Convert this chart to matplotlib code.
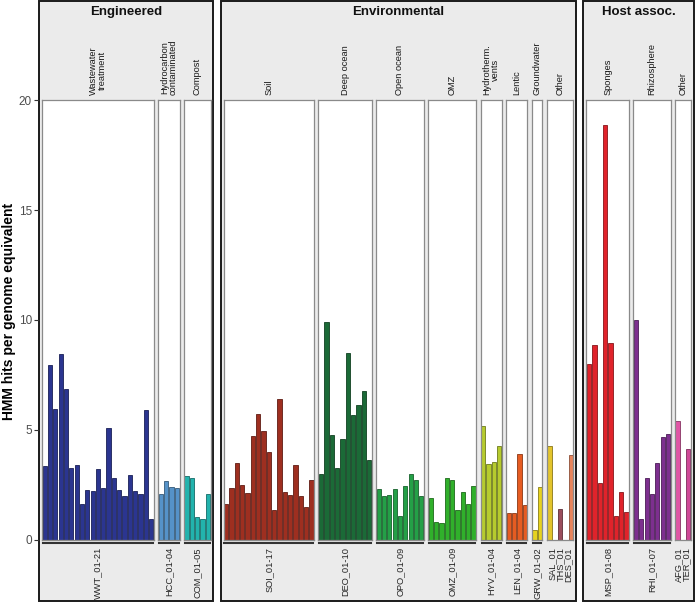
import numpy as np
import matplotlib.pyplot as plt
from matplotlib.colors import to_rgb
from matplotlib.patches import Rectangle
from matplotlib.lines import Line2D

plt.rcParams['font.family'] = ['Liberation Sans', 'DejaVu Sans']

# ---- data ----
group_names = ['Engineered', 'Environmental', 'Host assoc.']
panel_group = [0, 0, 0, 1, 1, 1, 1, 1, 1, 1, 1, 2, 2, 2]
strip_labels = ['Wastewater\ntreatment', 'Hydrocarbon\ncontaminated', 'Compost',
                'Soil', 'Deep ocean', 'Open ocean', 'OMZ', 'Hydrotherm.\nvents',
                'Lentic', 'Groundwater', 'Other',
                'Sponges', 'Rhizosphere', 'Other']
tick_labels = ['WWT_01-21', 'HCC_01-04', 'COM_01-05',
               'SOI_01-17', 'DEO_01-10', 'OPO_01-09', 'OMZ_01-09', 'HYV_01-04',
               'LEN_01-04', 'GRW_01-02', 'SAL_01\nTHS_01\nDES_01',
               'MSP_01-08', 'RHI_01-07', 'AFG_01\nTER_01']

nan = np.nan
wwt = [3.37, 7.97, 5.97, 8.46, 6.86, 3.25, 3.42, 1.64, 2.25, 2.20, 3.22,
       2.37, 5.10, 2.82, 2.25, 1.97, 2.95, 2.23, 2.08, 5.92, 0.96]
hcc = [2.10, 2.65, 2.40, 2.35]
com = [2.90, 2.80, 1.04, 0.92, 2.06]
soi = [1.63, 2.35, 3.47, 2.48, 2.13, 4.73, 5.74, 4.93, 4.00, 1.33, 6.42,
       2.15, 2.04, 3.38, 2.00, 1.50, 2.71]
deo = [2.98, 9.90, 4.76, 3.26, 4.60, 8.49, 5.68, 6.15, 6.79, 3.62]
opo = [2.32, 2.00, 2.03, 2.32, 1.06, 2.43, 2.99, 2.73, 1.98]
omz = [1.88, 0.80, 0.78, 2.79, 2.72, 1.34, 2.19, 1.63, 2.44]
hyv = [5.16, 3.43, 3.52, 4.25]
len_ = [1.21, 1.21, 3.90, 1.57]
grw = [0.46, 2.41]
oth_env = [4.25, nan, 1.42, nan, 3.84]    # SAL, -, THS, -, DES
msp = [8.00, 8.87, 2.56, 18.86, 8.95, 1.09, 2.15, 1.24]
rhi = [9.98, 0.92, 2.80, 2.10, 3.47, 4.69, 4.81]
oth_host = [5.42, nan, 4.11]              # AFG, -, TER

panel_values = [wwt, hcc, com, soi, deo, opo, omz, hyv, len_, grw, oth_env,
                msp, rhi, oth_host]
panel_colors = ['#2b3590', '#5592c8', '#22b3ad', '#9e2f20', '#1b6a37',
                '#24a047', '#30b02b', '#b6cb2e', '#e65c22', '#e6d21e',
                ['#e3c42c', '#e3c42c', '#9b4d5c', '#9b4d5c', '#e8845c'],
                '#e0232b', '#7d2f8f', ['#e055a5', '#e055a5', '#d04898']]

# ---- layout (pixels) ----
W, H = 696, 603
slot, gap, pad, box_gap = 5.33, 4.3, 3.0, 7.0
y_top, y_base = 100.3, 539.7


def fx(x):
    return x / W


def fy(y):
    return 1 - y / H


def darker(c, f=0.6):
    r, g, b = to_rgb(c)
    return (r * f, g * f, b * f)


fig = plt.figure(figsize=(W / 100, H / 100), dpi=100)

x = 39.0
for g, gname in enumerate(group_names):
    box_left = x
    x += pad
    idx = [i for i, pg in enumerate(panel_group) if pg == g]
    for i in idx:
        vals = panel_values[i]
        n = len(vals)
        w = n * slot
        ax = fig.add_axes([fx(x), fy(y_base), w / W, (y_base - y_top) / H])
        cols = panel_colors[i]
        if isinstance(cols, str):
            cols = [cols] * n
        ax.bar(np.arange(n), vals, width=0.8, color=cols,
               edgecolor=[darker(c) for c in cols], linewidth=0.6)
        ax.set_xlim(-0.5, n - 0.5)
        ax.set_ylim(0, 20)
        ax.set_xticks([])
        ax.set_yticks([])
        for sp in ax.spines.values():
            sp.set_color('#8a8a8a')
            sp.set_linewidth(0.9)
        cx = x + w / 2
        fig.text(fx(cx), fy(95), strip_labels[i], rotation=90, ha='center',
                 va='bottom', fontsize=6.7, linespacing=0.9, color='#1a1a1a')
        fig.text(fx(cx), fy(547), tick_labels[i], rotation=90, ha='center',
                 va='top', multialignment='right', fontsize=6.7,
                 linespacing=0.85, color='#262626')
        if '\n' not in tick_labels[i]:
            fig.add_artist(Line2D([fx(x + 1), fx(x + w - 1)],
                                  [fy(542.5), fy(542.5)],
                                  color='#333333', linewidth=1.5))
        x += w + gap
    x -= gap
    x += pad
    box_right = x
    fig.add_artist(Rectangle((fx(box_left), fy(601)), (box_right - box_left) / W,
                             600 / H, transform=fig.transFigure,
                             facecolor='#ebebeb', edgecolor='#1a1a1a',
                             linewidth=1.4, zorder=-1))
    fig.text(fx((box_left + box_right) / 2), fy(12), gname, ha='center',
             va='center', fontsize=9.5, fontweight='bold', color='#111111')
    if g == 0:
        ax_y = fig.add_axes([fx(box_left), fy(y_base), 0.0001,
                             (y_base - y_top) / H])
        ax_y.set_frame_on(False)
        ax_y.set_ylim(0, 20)
        ax_y.set_xticks([])
        ax_y.set_yticks([0, 5, 10, 15, 20])
        ax_y.tick_params(axis='y', length=3.5, width=0.8, color='#333333',
                         labelcolor='#4d4d4d', labelsize=8.5, pad=1.5)
    x += box_gap

fig.text(fx(9), fy(311), 'HMM hits per genome equivalent', rotation=90,
         ha='center', va='center', fontsize=10, fontweight='bold')

fig.savefig('out.png', dpi=100)
